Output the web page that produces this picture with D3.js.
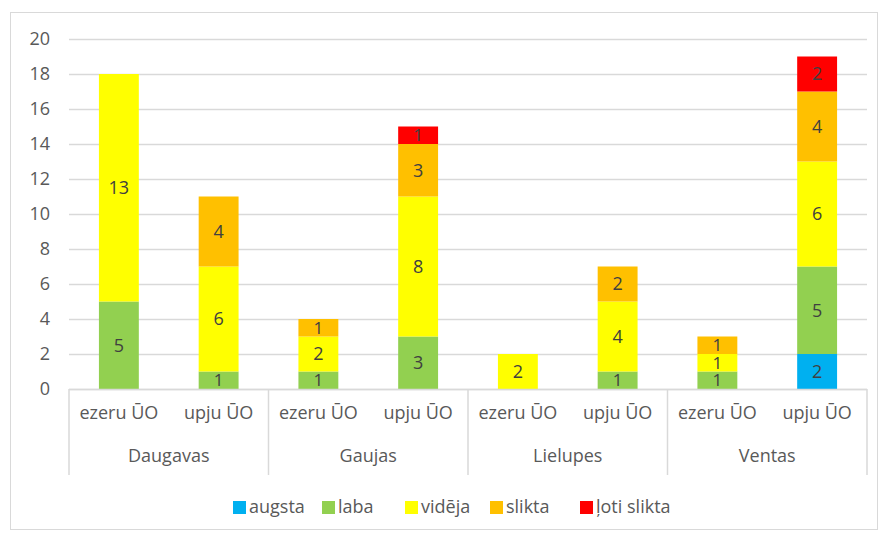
<!DOCTYPE html>
<html>
<head>
<meta charset="utf-8">
<script src="https://cdn.jsdelivr.net/npm/d3@7"></script>
<style>
  body { margin: 0; background: #fff; }
  text { font-family: "Open Sans", "Liberation Sans", sans-serif; }
</style>
</head>
<body>
<script>
(function () {

    var w = 883;
    var h = 535;

    // data
    var basins = ["Daugavas", "Gaujas", "Lielupes", "Ventas"];
    var types = ["ezeru ŪO", "upju ŪO"];
    var classes = ["augsta", "laba", "vidēja", "slikta", "ļoti slikta"];
    var colors = ["#00B0F0", "#92D050", "#FFFF00", "#FFC000", "#FF0000"];
    var augsta = [0, 0, 0, 0, 0, 0, 0, 2];
    var laba = [5, 1, 1, 3, 0, 1, 1, 5];
    var videja = [13, 6, 2, 8, 2, 4, 1, 6];
    var slikta = [0, 4, 1, 3, 0, 2, 1, 4];
    var lotiSlikta = [0, 0, 0, 1, 0, 0, 0, 2];
    var yTicks = [0, 2, 4, 6, 8, 10, 12, 14, 16, 18, 20];

    var series = [augsta, laba, videja, slikta, lotiSlikta];
    var rows = [];
    basins.forEach(function (b, bi) {
        types.forEach(function (t, ti) {
            var i = bi * 2 + ti;
            var r = { key: b + "|" + t, basin: b, type: t };
            classes.forEach(function (c, ci) { r[c] = series[ci][i]; });
            rows.push(r);
        });
    });

    var left = 69, right = 867, top = 39, bottom = 389;
    var fs = 18;

    var svg = d3.select("body").append("svg")
        .attr("width", w)
        .attr("height", h);

    // outer frame
    svg.append("rect")
        .attr("x", 10.5).attr("y", 12.5)
        .attr("width", 867).attr("height", 517)
        .attr("fill", "none").attr("stroke", "#d9d9d9");

    var x = d3.scaleBand()
        .domain(rows.map(function (d) { return d.key; }))
        .range([left, right])
        .paddingInner(0.6)
        .paddingOuter(0.3);

    var y = d3.scaleLinear().domain([0, 20]).range([bottom, top]);

    // gridlines
    svg.append("g")
        .selectAll("line")
        .data(yTicks)
        .enter().append("line")
        .attr("x1", left).attr("x2", right)
        .attr("y1", function (d) { return Math.round(y(d)) + 0.5; })
        .attr("y2", function (d) { return Math.round(y(d)) + 0.5; })
        .attr("stroke", "#d9d9d9")
        .attr("stroke-width", 1.5);

    // y axis labels
    svg.append("g")
        .selectAll("text")
        .data(yTicks)
        .enter().append("text")
        .attr("x", 50)
        .attr("y", function (d) { return y(d); })
        .attr("dy", "0.36em")
        .attr("text-anchor", "end")
        .attr("font-size", fs)
        .attr("fill", "#595959")
        .text(function (d) { return d; });

    var stack = d3.stack().keys(classes);
    var stacked = stack(rows);

    var layer = svg.append("g")
        .selectAll("g")
        .data(stacked)
        .enter().append("g")
        .attr("fill", function (d, i) { return colors[i]; });

    layer.selectAll("rect")
        .data(function (d) { return d; })
        .enter().append("rect")
        .attr("x", function (d) { return x(d.data.key); })
        .attr("y", function (d) { return y(d[1]); })
        .attr("width", x.bandwidth())
        .attr("height", function (d) { return y(d[0]) - y(d[1]); });

    // value labels
    layer.selectAll("text")
        .data(function (d) { return d; })
        .enter()
        .filter(function (d) { return d[1] - d[0] > 0; })
        .append("text")
        .attr("x", function (d) { return x(d.data.key) + x.bandwidth() / 2; })
        .attr("y", function (d) { return y((d[0] + d[1]) / 2); })
        .attr("dy", "0.36em")
        .attr("text-anchor", "middle")
        .attr("font-size", function (d) { return d[1] - d[0] > 1 ? fs : 17; })
        .attr("fill", "#404040")
        .text(function (d) { return d[1] - d[0]; });

    // category axis
    var axis = svg.append("g");
    axis.append("line")
        .attr("x1", left).attr("x2", right)
        .attr("y1", bottom + 0.5).attr("y2", bottom + 0.5)
        .attr("stroke", "#d9d9d9").attr("stroke-width", 1.5);

    var groupW = (right - left) / basins.length;
    axis.selectAll("line.sep")
        .data(d3.range(basins.length + 1))
        .enter().append("line")
        .attr("class", "sep")
        .attr("x1", function (d) { return left + d * groupW; })
        .attr("x2", function (d) { return left + d * groupW; })
        .attr("y1", bottom).attr("y2", 475)
        .attr("stroke", "#d9d9d9").attr("stroke-width", 1.5);

    axis.selectAll("text.sub")
        .data(rows)
        .enter().append("text")
        .attr("class", "sub")
        .attr("x", function (d) { return x(d.key) + x.bandwidth() / 2; })
        .attr("y", 413)
        .attr("dy", "0.36em")
        .attr("text-anchor", "middle")
        .attr("font-size", fs)
        .attr("fill", "#595959")
        .text(function (d) { return d.type; });

    axis.selectAll("text.grp")
        .data(basins)
        .enter().append("text")
        .attr("class", "grp")
        .attr("x", function (d, i) { return left + (i + 0.5) * groupW; })
        .attr("y", 456)
        .attr("dy", "0.36em")
        .attr("text-anchor", "middle")
        .attr("font-size", fs)
        .attr("fill", "#595959")
        .text(function (d) { return d; });

    // legend
    var legendX = [233, 322, 405, 490, 580];
    var legend = svg.append("g")
        .selectAll("g")
        .data(classes)
        .enter().append("g")
        .attr("transform", function (d, i) { return "translate(" + legendX[i] + ",507)"; });

    legend.append("rect")
        .attr("x", 0).attr("y", -6)
        .attr("width", 13).attr("height", 13)
        .attr("fill", function (d, i) { return colors[i]; });

    legend.append("text")
        .attr("x", 16)
        .attr("y", 0)
        .attr("dy", "0.36em")
        .attr("font-size", fs)
        .attr("fill", "#595959")
        .text(function (d) { return d; });
})();
</script>
</body>
</html>
